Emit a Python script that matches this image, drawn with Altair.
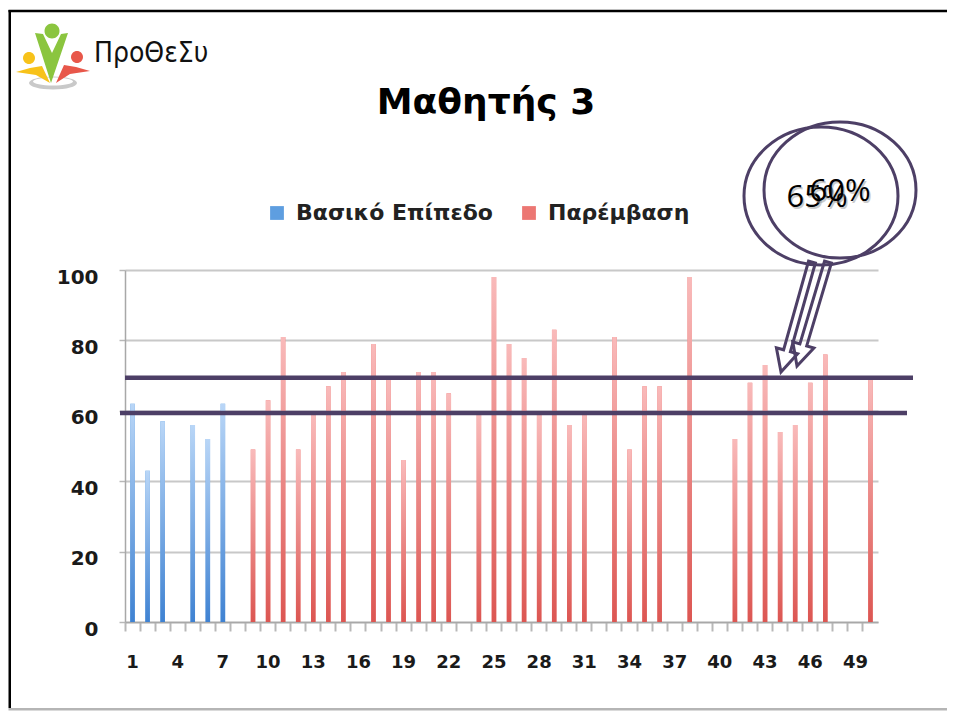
import altair as alt
import pandas as pd

# ---------------- data ----------------
categories = list(range(1, 51))
series_names = ["Βασικό Επίπεδο", "Παρέμβαση"]
basic_cats = [1, 2, 3, 5, 6, 7]
basic_vals = [62, 43, 57, 56, 52, 62]
interv_cats = [9, 10, 11, 12, 13, 14, 15, 17, 18, 19, 20, 21, 22, 24, 25, 26, 27, 28,
               29, 30, 31, 33, 34, 35, 36, 38, 41, 42, 43, 44, 45, 46, 47, 50]
interv_vals = [49, 63, 81, 49, 59, 67, 71, 79, 69, 46, 71, 71, 65, 59, 98, 79, 75, 59,
               83, 56, 59, 81, 49, 67, 67, 98, 52, 68, 73, 54, 56, 68, 76, 69]
y_ticks = [0, 20, 40, 60, 80, 100]
thresholds = [69.4, 59.4]
badge_texts = ["65%", "60%"]
title_text = "Μαθητής 3"
logo_text = "ΠροΘεΣυ"

bars = pd.DataFrame({
    "cat": basic_cats + interv_cats,
    "value": basic_vals + interv_vals,
    "series": [series_names[0]] * len(basic_cats) + [series_names[1]] * len(interv_cats),
})
lines = pd.DataFrame({"t": thresholds, "x1": [0, -5], "x2": [788, 782]})
one = pd.DataFrame({"a": [0]})

# ---------------- styles ----------------
W, H = 753, 352
PURPLE = "#4d3f66"
FONT = "DejaVu Sans"
BAR_W = 4.5

xscale = alt.Scale(domain=categories, paddingInner=0, paddingOuter=0)
yscale = alt.Scale(domain=[0, 100], nice=False)

x_enc = alt.X("cat:O", scale=xscale, axis=alt.Axis(
    title=None, labelAngle=0, bandPosition=0,
    labelExpr="(datum.value - 1) % 3 == 0 ? datum.label : ''",
    labelOverlap=False, tickSize=9, tickWidth=2, tickColor="#b8b8b8",
    domainColor="#a8a8a8", domainWidth=1.5, grid=False,
    labelFont=FONT, labelFontSize=18, labelFontWeight="bold", labelColor="#1a1a1a",
    labelPadding=22))
y_enc = alt.Y("value:Q", scale=yscale, axis=alt.Axis(
    title=None, values=y_ticks, grid=True, gridColor="#c8c8c8", gridWidth=2,
    domainColor="#a8a8a8", domainWidth=1.5, tickColor="#b8b8b8", tickSize=6,
    tickWidth=1.5, labelFont=FONT, labelFontSize=20, labelFontWeight="bold",
    labelColor="#1a1a1a", labelPadding=21, labelOffset=7))

legend_bars = alt.Chart(bars).mark_bar(size=BAR_W).encode(
    x=x_enc, y=y_enc,
    color=alt.Color("series:N", scale=alt.Scale(domain=series_names, range=["#5e9ee0", "#ec7773"]),
                    legend=alt.Legend(title=None, orient="none", direction="horizontal",
                                      legendX=141, legendY=-68, symbolType="square",
                                      symbolSize=190, symbolStrokeWidth=0, symbolOpacity=1,
                                      labelFont=FONT, labelFontSize=22, labelFontWeight="bold",
                                      labelColor="#222222", labelLimit=400, columnPadding=25,
                                      labelOffset=8)))


def grad(c_bottom, c_top):
    return alt.LinearGradient(gradient="linear", x1=0, x2=0, y1=1, y2=0,
                              stops=[alt.GradientStop(color=c_bottom, offset=0),
                                     alt.GradientStop(color=c_top, offset=1)])


blue_bars = alt.Chart(bars).transform_filter(
    alt.datum.series == series_names[0]).mark_bar(size=BAR_W, color=grad("#3f82d2", "#b9d6f7")).encode(
    x=alt.X("cat:O", scale=xscale), y=alt.Y("value:Q", scale=yscale))
red_bars = alt.Chart(bars).transform_filter(
    alt.datum.series == series_names[1]).mark_bar(size=BAR_W, color=grad("#dc5652", "#f9baba")).encode(
    x=alt.X("cat:O", scale=xscale), y=alt.Y("value:Q", scale=yscale))

rules = alt.Chart(lines).mark_rule(color=PURPLE, strokeWidth=4.5).encode(
    y=alt.Y("t:Q", scale=yscale), x=alt.X("x1:Q", scale=None), x2="x2:Q")


def shape(path, fill=None, stroke=None, sw=0):
    kw = dict(shape=path, size=4, opacity=1, strokeWidth=sw)
    if fill:
        kw.update(filled=True, fill=fill)
    else:
        kw.update(filled=False, fill="transparent")
    if stroke:
        kw.update(stroke=stroke)
    return alt.Chart(one).mark_point(**kw).encode(x=alt.value(0), y=alt.value(0))


def ellipse(cx, cy, rx, ry):
    return (f"M {cx-rx},{cy} A {rx},{ry} 0 1,0 {cx+rx},{cy} "
            f"A {rx},{ry} 0 1,0 {cx-rx},{cy} Z")


def poly(pts):
    return "M " + " L ".join(f"{x},{y}" for x, y in pts) + " Z"


# logo (plot-relative coords, origin at plot top-left)
LX, LY = -72, -213
def lp(pts):
    return poly([(LX + x, LY + y) for x, y in pts])

logo = [
    shape(ellipse(LX, LY + 26, 24, 6.5), fill="#c9c9c9"),
    shape(ellipse(LX, LY + 24.5, 20, 4), fill="#ffffff"),
    shape(lp([(-37, 15), (-23, 11), (-11, 9), (-3, 26), (-17, 18)]), fill="#f7c21a"),
    shape(lp([(37, 14), (23, 10), (11, 8), (3, 26), (17, 17)]), fill="#e8574a"),
    shape(lp([(-18, -24), (-10, -23), (-1, -4), (8, -23), (15, -24), (-2, 26)]), fill="#8bc53f"),
    shape(ellipse(LX - 1, LY - 26, 7.5, 7.5), fill="#8bc53f"),
    shape(ellipse(LX - 24, LY + 1, 6, 6), fill="#f7c21a"),
    shape(ellipse(LX + 24, LY, 6, 6), fill="#e8574a"),
]

logo_label = alt.Chart(one).mark_text(
    text=logo_text, font="Liberation Sans Narrow, DejaVu Sans Condensed, Roboto Condensed, sans-serif",
    fontSize=28, align="left", baseline="alphabetic", color="#111111").encode(
    x=alt.value(-31), y=alt.value(-208))

title = alt.Chart(one).mark_text(
    text=title_text, font=FONT, fontSize=36, fontWeight="bold", align="center",
    baseline="alphabetic", color="#000000").encode(x=alt.value(361), y=alt.value(-156))

# annotation badges
badges = [
    shape(ellipse(696, -74, 77, 69), stroke=PURPLE, sw=3),
    shape(ellipse(715, -80, 76, 68), stroke=PURPLE, sw=3),
    shape(poly([(683.6, -9), (658.6, 79.8), (651.4, 77.8), (656, 102), (672.6, 83.8),
                (665.4, 81.8), (690.4, -7)]), stroke=PURPLE, sw=3),
    shape(poly([(699.6, -9), (674.9, 73.9), (667.8, 71.8), (672, 96), (688.9, 78.1),
                (681.7, 75.9), (706.4, -7)]), stroke=PURPLE, sw=3),
]
badge_txt = []
for t, (bx, by) in zip(badge_texts, [(692, -72), (715, -78)]):
    badge_txt.append(alt.Chart(one).mark_text(text=t, font="Open Sans", fontSize=31, color="#999999",
                                             opacity=0.5, baseline="middle").encode(
        x=alt.value(bx + 1.5), y=alt.value(by + 1.5)))
    badge_txt.append(alt.Chart(one).mark_text(text=t, font="Open Sans", fontSize=31, color="#000000",
                                             baseline="middle").encode(
        x=alt.value(bx), y=alt.value(by)))

# frame (drawn as thin rects, kept inside the canvas)
frame_top = alt.Chart(one).mark_rect(color="#000000").encode(
    x=alt.value(-116.5), x2=alt.value(822), y=alt.value(-260.25), y2=alt.value(-257.75))
frame_left = alt.Chart(one).mark_rect(color="#000000").encode(
    x=alt.value(-116.5), x2=alt.value(-114), y=alt.value(-260), y2=alt.value(438))
band = alt.Chart(one).mark_rect(color="#b5b5b5").encode(
    x=alt.value(-116.5), x2=alt.value(822), y=alt.value(438), y2=alt.value(440.5))

chart = alt.layer(
    legend_bars, blue_bars, red_bars, rules, *logo, logo_label, title, *badges, *badge_txt,
    frame_top, frame_left, band
).properties(
    width=W, height=H,
    padding={"left": 117, "top": 262, "right": 70, "bottom": 89},
    autosize=alt.AutoSizeParams(type="none"),
    background="#ffffff",
).configure_view(strokeWidth=0)

chart.save("out.html", embed_options={"renderer": "svg", "actions": False})
